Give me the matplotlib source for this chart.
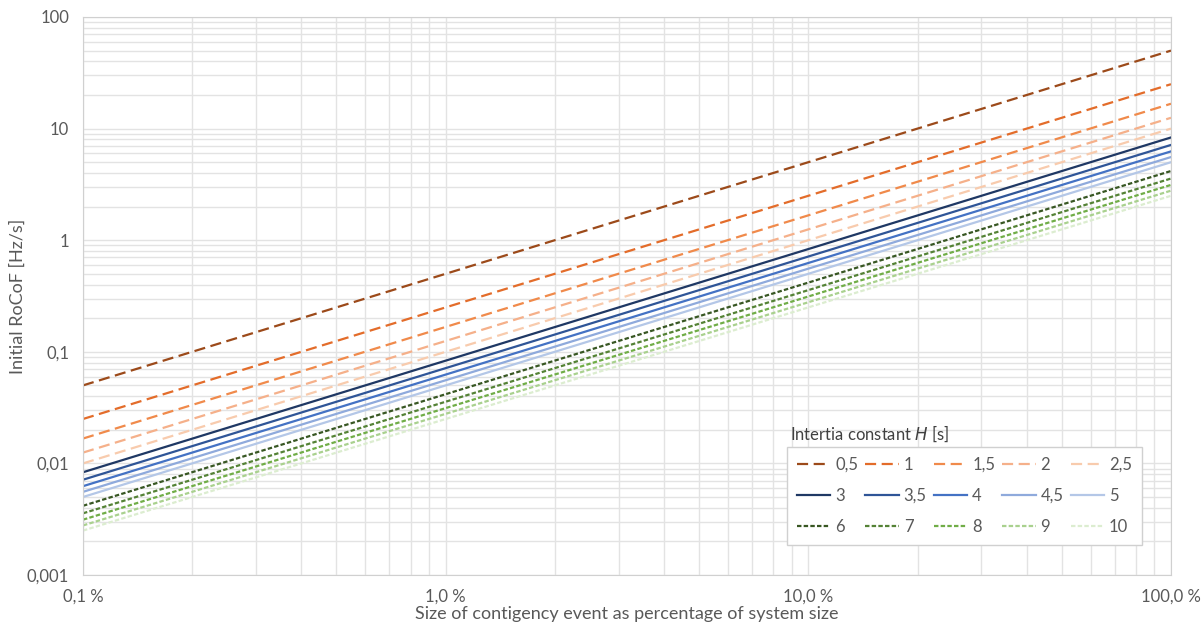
import matplotlib.pyplot as plt
from matplotlib.ticker import FixedLocator, LogLocator, NullFormatter

plt.rcParams['font.family'] = ['Lato', 'DejaVu Sans']

# contingency size in percent (endpoints of each straight line)
eventSize = [0.1, 100.0]

inertia = ['0,5', '1', '1,5', '2', '2,5', '3', '3,5', '4', '4,5', '5', '6', '7', '8', '9', '10']
rocofStart = [0.05, 0.025, 0.0167, 0.0125, 0.01, 0.00833, 0.00714, 0.00625, 0.00556, 0.005,
              0.00417, 0.00357, 0.00313, 0.00278, 0.0025]
rocofEnd = [50, 25, 16.7, 12.5, 10, 8.33, 7.14, 6.25, 5.56, 5.0, 4.17, 3.57, 3.13, 2.78, 2.5]

colors = ['#9C4A1A', '#E36C2A', '#F08A4B', '#F5B08A', '#F8CBAD',
          '#1F3864', '#2F5597', '#4472C4', '#8FAADC', '#B4C7E7',
          '#385723', '#548235', '#70AD47', '#A9D18E', '#DCEDD0']

yTicks = [0.001, 0.01, 0.1, 1, 10, 100]
yLabels = ['0,001', '0,01', '0,1', '1', '10', '100']
xTicks = [0.1, 1, 10, 100]
xLabels = ['0,1 %', '1,0 %', '10,0 %', '100,0 %']

fig = plt.figure(figsize=(12.02, 6.26), dpi=100)
ax = fig.add_axes([83/1202, 1 - 575/626, (1171-83)/1202, (575-17)/626])

lines = []
for i in range(len(inertia)):
    if i < 5:
        ls = (0, (5, 2.5))
    elif i < 10:
        ls = '-'
    else:
        ls = (0, (2, 1))
    ln, = ax.plot(eventSize, [rocofStart[i], rocofEnd[i]], color=colors[i],
                  linestyle=ls, linewidth=1.6, label=inertia[i])
    lines.append(ln)

ax.set_xscale('log')
ax.set_yscale('log')
ax.set_xlim(0.1, 100)
ax.set_ylim(0.001, 100)

ax.xaxis.set_major_locator(FixedLocator(xTicks))
ax.set_xticklabels(xLabels)
ax.yaxis.set_major_locator(FixedLocator(yTicks))
ax.set_yticklabels(yLabels)
ax.xaxis.set_minor_locator(LogLocator(base=10, subs=range(2, 10)))
ax.yaxis.set_minor_locator(LogLocator(base=10, subs=range(2, 10)))
ax.xaxis.set_minor_formatter(NullFormatter())
ax.yaxis.set_minor_formatter(NullFormatter())

ax.grid(True, which='both', color='#E3E3E3', linewidth=1.0)
ax.set_axisbelow(True)
for s in ax.spines.values():
    s.set_color('#D0D0D0')
ax.tick_params(which='both', length=0, colors='#595959', labelsize=12)
ax.tick_params(axis='x', pad=10)
ax.tick_params(axis='y', pad=10)

fig.text(18/1202, 1 - 296/626, 'Initial RoCoF [Hz/s]', fontsize=13, color='#595959',
         rotation=90, ha='center', va='center')
fig.text(627/1202, 1 - 614/626, 'Size of contigency event as percentage of system size',
         fontsize=13, color='#595959', ha='center', va='center')

# legend laid out row by row
order = []
for c in range(5):
    for r in range(3):
        order.append(r * 5 + c)
leg = ax.legend([lines[k] for k in order], [inertia[k] for k in order], ncol=5,
                loc='lower left', bbox_to_anchor=(787/1202, 1 - 545/626, (1142-787)/1202, (545-444)/626),
                bbox_transform=fig.transFigure, mode='expand', fontsize=12,
                handlelength=2.0, handletextpad=0.3, labelspacing=0.9, borderaxespad=0,
                borderpad=0.6, fancybox=False, framealpha=1, edgecolor='#D0D0D0', labelcolor='#595959')
fig.text(790/1202, 1 - 434/626, 'Intertia constant $H$ [s]', fontsize=12, color='#404040', va='center')

fig.savefig('out.png', dpi=100)
